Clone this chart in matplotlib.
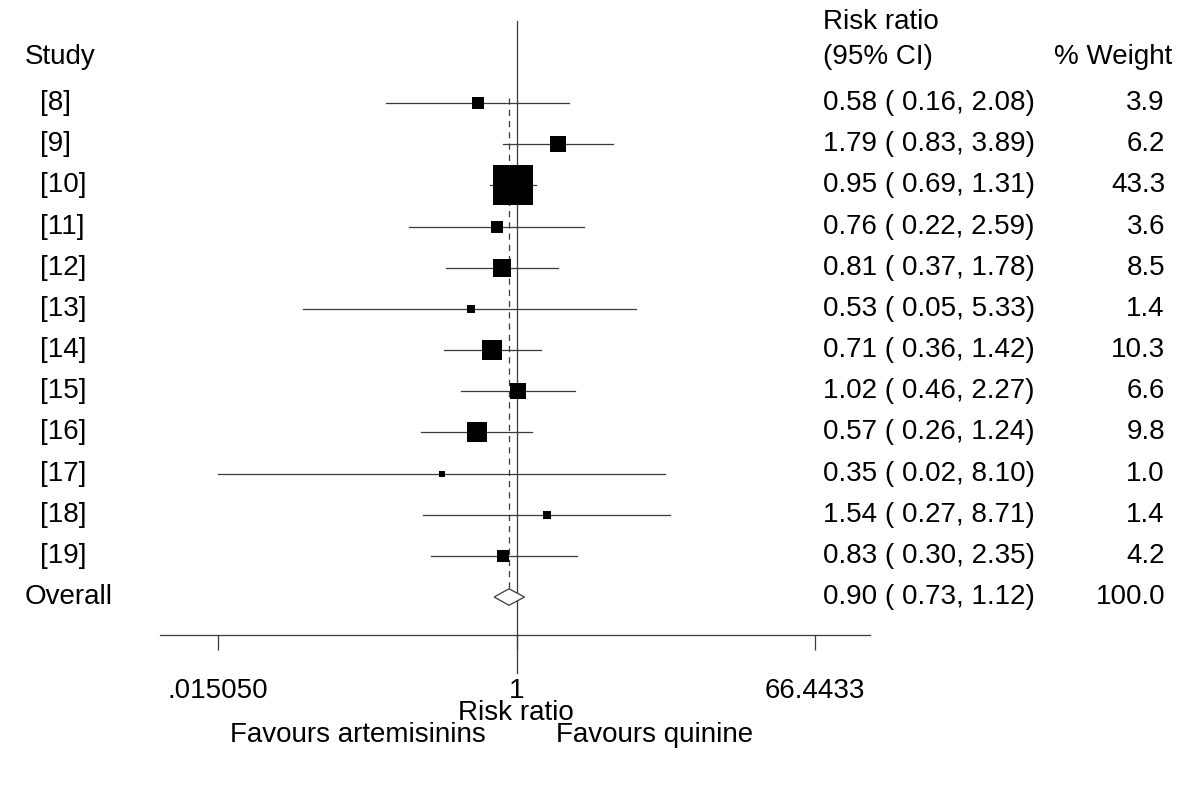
import numpy as np
import matplotlib
matplotlib.use("Agg")
import matplotlib.pyplot as plt
from matplotlib.transforms import blended_transform_factory
from matplotlib.patches import Polygon

plt.rcParams["font.family"] = ["Liberation Sans", "DejaVu Sans"]

# ── Data ────────────────────────────────────────────────
studies = ["[8]", "[9]", "[10]", "[11]", "[12]", "[13]", "[14]",
           "[15]", "[16]", "[17]", "[18]", "[19]"]
rr     = [0.58, 1.79, 0.95, 0.76, 0.81, 0.53, 0.71, 1.02, 0.57, 0.35, 1.54, 0.83]
ci_lo  = [0.16, 0.83, 0.69, 0.22, 0.37, 0.05, 0.36, 0.46, 0.26, 0.01505, 0.27, 0.30]
ci_hi  = [2.08, 3.89, 1.31, 2.59, 1.78, 5.33, 1.42, 2.27, 1.24, 8.10, 8.71, 2.35]
weight = [3.9, 6.2, 43.3, 3.6, 8.5, 1.4, 10.3, 6.6, 9.8, 1.0, 1.4, 4.2]
overall_rr, overall_lo, overall_hi = 0.90, 0.73, 1.12
overall_weight = 100.0
xtick_vals   = [0.015050, 1, 66.4433]
xtick_labels = [".015050", "1", "66.4433"]

W, H = 1200, 786
FS = 20
LC = "#3a3a3a"

fig = plt.figure(figsize=(W / 100, H / 100), dpi=100)
# axes spans pixel x 160..870, y 0..635 (axis line)
ax = fig.add_axes([160 / W, 1 - 635 / H, 710 / W, 635 / H])
ax.set_xscale("log")
ppl = 71.13  # pixels per ln unit
ax.set_xlim(np.exp((160 - 516.5) / ppl), np.exp((870 - 516.5) / ppl))
row_px, row0 = 41.17, 103
ax.set_ylim((635 - row0) / row_px, -row0 / row_px)

n = len(studies)
ys = np.arange(n)
y_over = n

# whiskers + squares (area ~ weight)
for i in range(n):
    ax.plot([ci_lo[i], ci_hi[i]], [ys[i], ys[i]], color=LC, lw=0.9, zorder=2)
    ms = 28.8 * np.sqrt(weight[i] / 43.3)
    ax.plot(rr[i], ys[i], marker="s", ms=ms, color="black", mew=0, zorder=3)

# null line and overall dashed line
ax.plot([1, 1], [-1.99, 13.85], color=LC, lw=0.9, clip_on=False, zorder=1)
ax.plot([overall_rr, overall_rr], [-0.12, y_over], color=LC, lw=0.9,
        ls=(0, (5, 4)), zorder=1)

# overall diamond
dh = 0.2
diamond = Polygon([(overall_lo, y_over), (overall_rr, y_over - dh),
                   (overall_hi, y_over), (overall_rr, y_over + dh)],
                  closed=True, facecolor="white", edgecolor=LC, lw=0.9, zorder=4)
ax.add_patch(diamond)

# axes styling
for s in ["top", "right", "left"]:
    ax.spines[s].set_visible(False)
ax.spines["bottom"].set_color(LC)
ax.spines["bottom"].set_linewidth(0.9)
ax.set_yticks([])
ax.xaxis.set_minor_locator(matplotlib.ticker.NullLocator())
ax.set_xticks(xtick_vals)
ax.set_xticklabels(xtick_labels, fontsize=FS)
ax.tick_params(axis="x", length=11, width=0.9, color=LC, pad=20)
ax.set_facecolor("none")

# text columns (x in figure pixels, y in rows)
tr = blended_transform_factory(fig.transFigure, ax.transData)
def fx(px):
    return px / W

ax.text(fx(25), -1.12, "Study", transform=tr, fontsize=FS, va="center")
for i, s in enumerate(studies):
    ax.text(fx(40), ys[i], s, transform=tr, fontsize=FS, va="center")
    ax.text(fx(823), ys[i], f"{rr[i]:.2f} ( {ci_lo[i]:.2f}, {ci_hi[i]:.2f})",
            transform=tr, fontsize=FS, va="center")
    ax.text(fx(1165), ys[i], f"{weight[i]:.1f}", transform=tr, fontsize=FS,
            va="center", ha="right")
ax.text(fx(25), y_over, "Overall", transform=tr, fontsize=FS, va="center")
ax.text(fx(823), y_over,
        f"{overall_rr:.2f} ( {overall_lo:.2f}, {overall_hi:.2f})",
        transform=tr, fontsize=FS, va="center")
ax.text(fx(1165), y_over, f"{overall_weight:.1f}", transform=tr, fontsize=FS,
        va="center", ha="right")

ax.text(fx(823), -1.97, "Risk ratio", transform=tr, fontsize=FS, va="center")
ax.text(fx(823), -1.12, "(95% CI)", transform=tr, fontsize=FS, va="center")
ax.text(fx(1172), -1.12, "% Weight", transform=tr, fontsize=FS, va="center",
        ha="right")

# axis title and favour labels
fig.text(516 / W, 1 - 713 / H, "Risk ratio", fontsize=FS, ha="center", va="center")
fig.text(358 / W, 1 - 735 / H, "Favours artemisinins", fontsize=FS,
         ha="center", va="center")
fig.text(655 / W, 1 - 735 / H, "Favours quinine", fontsize=FS,
         ha="center", va="center")

fig.savefig("out.png", dpi=100)
